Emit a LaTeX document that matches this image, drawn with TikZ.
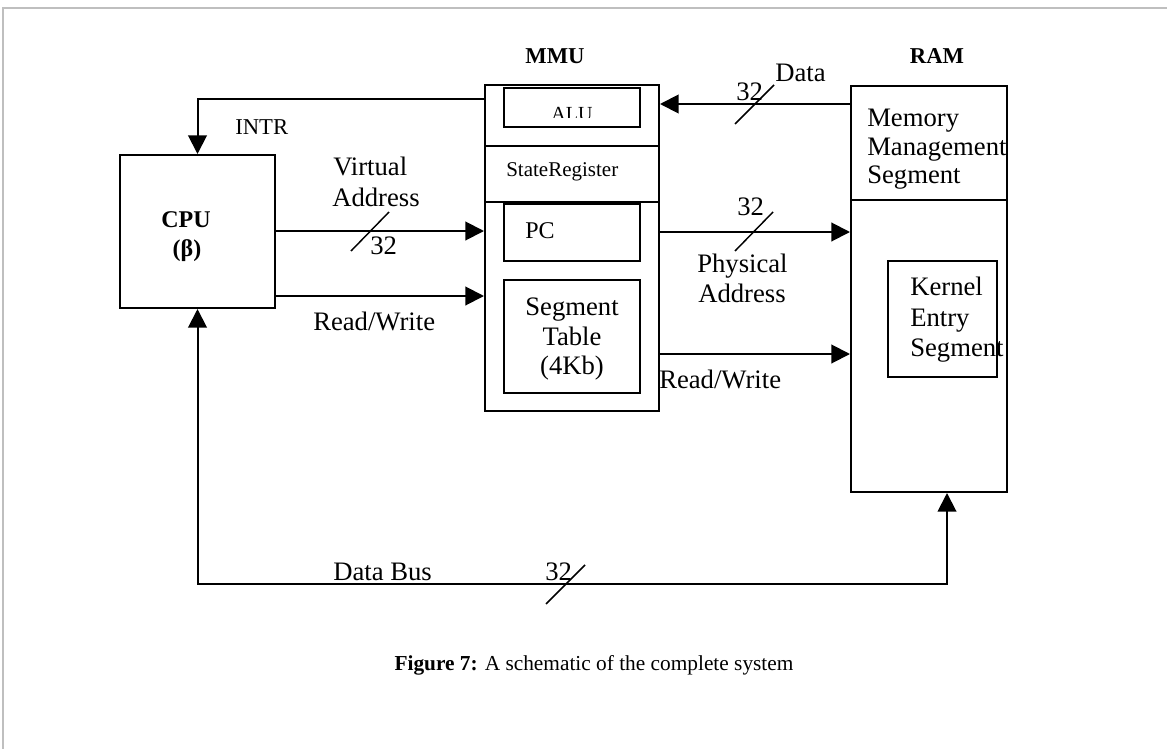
\documentclass[tikz,border=0pt]{standalone}
\usepackage{fontspec}
\setmainfont{Liberation Serif}
\usetikzlibrary{arrows.meta,fit}
\begin{document}
\begin{tikzpicture}[x=0.75pt,y=-0.75pt,
  box/.style={draw,line width=1.5pt,inner sep=0pt},
  conn/.style={line width=1.5pt,-{Triangle[length=14pt,width=14pt]}},
  biconn/.style={line width=1.5pt,{Triangle[length=14pt,width=14pt]}-{Triangle[length=14pt,width=14pt]}},
  plain/.style={line width=1.5pt},
  slash/.style={line width=1.1pt},
  lbl/.style={inner sep=0pt,anchor=base west,font=\fontsize{20}{22}\selectfont},
  clbl/.style={inner sep=0pt,anchor=base,font=\fontsize{20}{22}\selectfont},
  small/.style={inner sep=0pt,anchor=base west,font=\fontsize{15.75}{18}\selectfont},
  title/.style={inner sep=0pt,anchor=base,font=\fontsize{17}{20}\selectfont\bfseries},
  frame/.style={draw=black!25,line width=1.5pt}]
\useasboundingbox (0,0) rectangle (1167,749);
\draw[frame] (3,749) -- (3,8) -- (1167,8);

% boxes
\node[box,fit={(120,155)(275,308)}] (cpu) {};
\node[box,fit={(485,85)(659,411)}] (mmu) {};
\node[box,fit={(504,88)(640,127)}] (alu) {};
\node[box,fit={(485,146)(659,202)}] (statereg) {};
\node[box,fit={(504,204)(640,261)}] (pc) {};
\node[box,fit={(504,280)(640,393)}] (segtab) {};
\node[box,fit={(851,86)(1007,492)}] (ram) {};
\node[box,fit={(851,86)(1007,200)}] (mms) {};
\node[box,fit={(888,261)(997,377)}] (kernel) {};

% titles
\node[title] (mmutitle) at (555,64) {MMU};
\node[title] (ramtitle) at (937,64) {RAM};
\node[inner sep=0pt,anchor=base,font=\fontsize{18}{20}\selectfont\bfseries] (cputext1) at (186,227) {CPU};
\node[inner sep=0pt,anchor=base,font=\fontsize{18}{20}\selectfont\bfseries] (cputext2) at (187,256) {(β)};

% box texts
\begin{scope}
  \clip (505,89) rectangle (639,117);
  \node[inner sep=0pt,anchor=base,font=\fontsize{15}{17}\selectfont] (alutext) at (572,120) {ALU};
\end{scope}
\node[small] (statetext) at (506,176) {StateRegister};
\node[inner sep=0pt,anchor=base west,font=\fontsize{18}{20}\selectfont] (pctext) at (525,238) {PC};
\node[clbl] (seg1) at (572,315) {Segment};
\node[clbl] (seg2) at (572,345) {Table};
\node[clbl] (seg3) at (572,374) {(4Kb)};
\node[lbl] (mm1) at (867,126) {Memory};
\node[lbl] (mm2) at (867,155) {Management};
\node[lbl] (mm3) at (867,183) {Segment};
\node[lbl] (ke1) at (910,295) {Kernel};
\node[lbl] (ke2) at (910,326) {Entry};
\node[lbl] (ke3) at (910,356) {Segment};

% connectors
\draw[conn] (mmu.west |- 0,99) -| (cpu.north);
\draw[conn] (cpu.east |- 0,231) -- (mmu.west |- 0,231);
\draw[conn] (cpu.east |- 0,296) -- (mmu.west |- 0,296);
\draw[conn] (ram.west |- 0,104) -- (mmu.east |- 0,104);
\draw[conn] (mmu.east |- 0,232) -- (ram.west |- 0,232);
\draw[conn] (mmu.east |- 0,354) -- (ram.west |- 0,354);
\coordinate (busend) at (947,584);
\draw[biconn] (cpu.south) |- (busend) -- (busend |- ram.south);

% bus-width slashes
\draw[slash] (351,251) -- (389,212);
\draw[slash] (735,124) -- (774,85);
\draw[slash] (735,251) -- (773,212);
\draw[slash] (546,604) -- (585,565);

% connector labels
\node[inner sep=0pt,anchor=base west,font=\fontsize{17}{20}\selectfont] (intr) at (235,134) {INTR};
\node[lbl] (va1) at (333,175) {Virtual};
\node[lbl] (va2) at (332,206) {Address};
\node[lbl] (va32) at (370,254) {32};
\node[lbl] (rw1) at (313,330) {Read/Write};
\node[lbl] (data) at (775,82) {Data};
\node[lbl] (data32) at (736,100) {32};
\node[lbl] (pa32) at (737,215) {32};
\node[lbl] (pa1) at (697,272) {Physical};
\node[lbl] (pa2) at (698,302) {Address};
\node[lbl] (rw2) at (659,388) {Read/Write};
\node[lbl] (bus) at (333,580) {Data Bus};
\node[lbl] (bus32) at (545,580) {32};

% caption
\node[inner sep=0pt,anchor=base,font=\fontsize{16}{19}\selectfont] (caption) at (594,670) {\textbf{Figure 7:} A schematic of the complete system};
\end{tikzpicture}
\end{document}
